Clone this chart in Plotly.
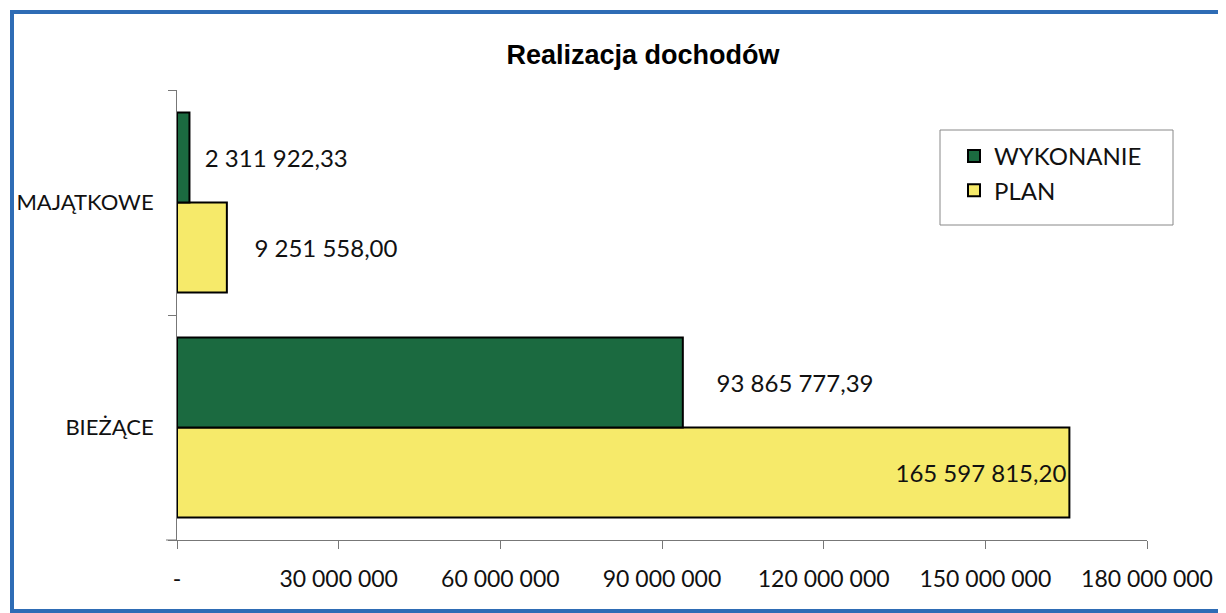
import plotly.graph_objects as go

# ---- data ----
categories = ["BIEŻĄCE", "MAJĄTKOWE"]
plan_values = [165597815.20, 9251558.00]
wykonanie_values = [93865777.39, 2311922.33]
plan_labels = ["165 597 815,20", "9 251 558,00"]
wykonanie_labels = ["93 865 777,39", "2 311 922,33"]
x_tick_values = [0, 30000000, 60000000, 90000000, 120000000, 150000000, 180000000]
x_tick_labels = ["-", "30 000 000", "60 000 000", "90 000 000", "120 000 000", "150 000 000", "180 000 000"]
title_text = "Realizacja dochodów"

# ---- layout geometry (page pixels; page body has an 8px margin) ----
OFF = 8
PAGE_W, PAGE_H = 1226, 613
W, H = PAGE_W - 2 * OFF, PAGE_H - OFF
PL, PR, PT, PB = 177, 1147, 90, 540  # plot area in page pixels
L, R, T, B = PL - OFF, (PAGE_W - OFF) - PR, PT - OFF, PAGE_H - PB
PW, PH = PR - PL, PB - PT


def px(x):
    return (x - PL) / PW


def py(y):
    return (PB - y) / PH


FONT = "Lato"
NB = "\u00a0"
FRAME = "#2E6CB5"

fig = go.Figure()
fig.add_trace(go.Bar(
    name="PLAN", y=categories, x=plan_values, orientation="h",
    marker=dict(color="#F6EA6A", line=dict(color="#000000", width=2)),
    text=[plan_labels[0], NB * 4 + plan_labels[1]],
    textposition=["inside", "outside"],
    insidetextanchor="end",
    textfont=dict(family=FONT, size=24, color="#111111"),
    legendgroup="p",
))
fig.add_trace(go.Bar(
    name="WYKONANIE", y=categories, x=wykonanie_values, orientation="h",
    marker=dict(color="#1B6A40", line=dict(color="#000000", width=2)),
    text=[NB * 5 + wykonanie_labels[0], NB * 2 + wykonanie_labels[1]],
    textposition=["outside", "outside"],
    textfont=dict(family=FONT, size=24, color="#111111"),
    legendgroup="w",
))

fig.update_layout(
    width=W, height=H,
    margin=dict(l=L, r=R, t=T, b=B, autoexpand=False),
    paper_bgcolor="white", plot_bgcolor="white",
    barmode="group", bargap=0.2, bargroupgap=0,
    title=dict(text="<b>" + title_text + "</b>", x=px(643), xref="paper", xanchor="center",
               y=1 - (55 - OFF) / H, yanchor="middle",
               font=dict(family="Liberation Sans", size=27, color="#000000")),
    showlegend=True,
    legend=dict(x=px(954), y=py(134), xanchor="left", yanchor="top",
                traceorder="reversed", tracegroupgap=20,
                font=dict(family=FONT, size=24, color="#111111"),
                bgcolor="rgba(0,0,0,0)", borderwidth=0),
    xaxis=dict(range=[0, 180000000], tickvals=x_tick_values, ticktext=x_tick_labels,
               automargin=False,
               showgrid=False, zeroline=False, showline=True, linecolor="#777777", linewidth=1,
               ticks="outside", ticklen=8, tickcolor="#777777", ticklabelstandoff=10,
               tickfont=dict(family=FONT, size=23, color="#111111")),
    yaxis=dict(range=[-0.5, 1.5], showgrid=False, zeroline=False, showline=True,
               automargin=False,
               linecolor="#777777", linewidth=1, ticks="outside", ticklen=8, tickcolor="#777777",
               tickson="boundaries", ticklabelstandoff=18,
               tickfont=dict(family=FONT, size=22, color="#111111")),
    shapes=[
        # outer blue frame (left, top, bottom edges; right edge is off-page)
        dict(type="line", xref="paper", yref="paper", x0=px(12), x1=px(12), y0=py(613), y1=py(10),
             line=dict(color=FRAME, width=4), layer="above"),
        dict(type="line", xref="paper", yref="paper", x0=px(10), x1=px(1240), y0=py(12), y1=py(12),
             line=dict(color=FRAME, width=4), layer="above"),
        dict(type="line", xref="paper", yref="paper", x0=px(10), x1=px(1240), y0=py(611), y1=py(611),
             line=dict(color=FRAME, width=4), layer="above"),
        # legend box
        dict(type="rect", xref="paper", yref="paper",
             x0=px(940), x1=px(1173), y0=py(225), y1=py(130),
             line=dict(color="#888888", width=1), fillcolor="rgba(0,0,0,0)", layer="above"),
        # axis line extension left of zero
        dict(type="line", xref="paper", yref="paper",
             x0=px(166), x1=0, y0=0, y1=0, line=dict(color="#777777", width=1)),
    ],
)

fig.write_html("out.html")
